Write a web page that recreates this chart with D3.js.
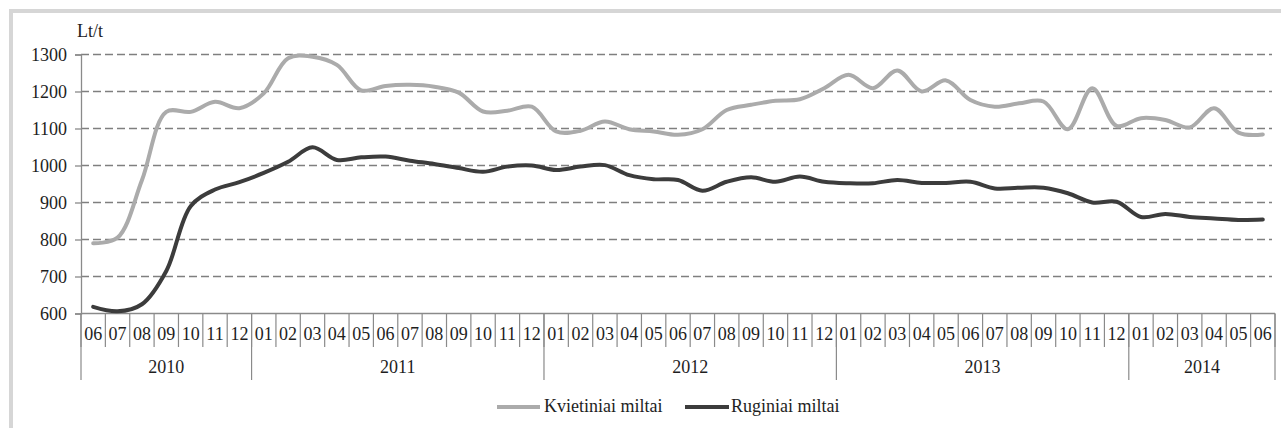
<!DOCTYPE html>
<html>
<head>
<meta charset="utf-8">
<script src="https://cdn.jsdelivr.net/npm/d3@7"></script>
<style>
  html, body { margin: 0; padding: 0; background: #fff; }
  svg { display: block; }
  svg text { font-family: "Liberation Serif", "DejaVu Serif", serif !important; fill: #1e1e1e; }
</style>
</head>
<body>
<svg id="chart" width="1281" height="428"></svg>
<script>
// ---- data ----
const monthLabels = [
  "06","07","08","09","10","11","12",
  "01","02","03","04","05","06","07","08","09","10","11","12",
  "01","02","03","04","05","06","07","08","09","10","11","12",
  "01","02","03","04","05","06","07","08","09","10","11","12",
  "01","02","03","04","05","06"
];
const yearLabels = ["2010", "2011", "2012", "2013", "2014"];
const yearCounts = [7, 12, 12, 12, 6];
const yTicks = [600, 700, 800, 900, 1000, 1100, 1200, 1300];
const unitLabel = "Lt/t";
const seriesNames = ["Kvietiniai miltai", "Ruginiai miltai"];
const wheat = [790, 805, 960, 1145, 1145, 1172, 1155, 1195, 1290, 1294, 1272, 1203,
  1215, 1218, 1213, 1197, 1146, 1148, 1159, 1092, 1094, 1119, 1098, 1092,
  1083, 1098, 1150, 1164, 1175, 1179, 1209, 1245, 1209, 1257, 1200, 1230,
  1177, 1159, 1168, 1173, 1098, 1209, 1107, 1128, 1123, 1103, 1155, 1089, 1084];
const rye = [618, 606, 625, 715, 890, 935, 955, 980, 1010, 1049, 1015, 1022,
  1024, 1013, 1004, 993, 983, 997, 1000, 988, 997, 1001, 974, 963,
  961, 932, 956, 968, 956, 970, 956, 952, 952, 961, 953, 953,
  956, 938, 940, 940, 925, 900, 902, 861, 869, 861, 857, 853, 854];
const seriesColors = ["#ababab", "#3c3c3c"];

// ---- layout ----
const svg = d3.select("#chart");
const plotLeft = 81, plotRight = 1275, plotTop = 54.5, plotBottom = 313.5;
const axisColor = "#8a8a8a";
const fontSize = 18;

// frame
svg.append("rect").attr("x", 9).attr("y", 9).attr("width", 1272).attr("height", 4).attr("fill", "#d6d6d6");
svg.append("rect").attr("x", 9).attr("y", 9).attr("width", 4).attr("height", 419).attr("fill", "#d6d6d6");

const idx = d3.range(monthLabels.length);
const x = d3.scaleBand().domain(idx).range([plotLeft, plotRight]).padding(0);
const y = d3.scaleLinear().domain([600, 1300]).range([plotBottom, plotTop]);

// gridlines
svg.append("g").selectAll("line").data(yTicks.filter(t => t > 600)).join("line")
  .attr("x1", plotLeft).attr("x2", plotRight - 3)
  .attr("y1", d => y(d)).attr("y2", d => y(d))
  .attr("stroke", "#7f7f7f").attr("stroke-width", 1.3)
  .attr("stroke-dasharray", "8,4");

// y axis
const yAxis = d3.axisLeft(y).tickValues(yTicks).tickSize(6).tickPadding(8).tickFormat(d3.format("d"));
const gy = svg.append("g").attr("transform", `translate(${plotLeft},0)`).call(yAxis);
gy.attr("font-size", fontSize).attr("font-family", null);
gy.select(".domain").attr("stroke", axisColor).attr("stroke-width", 1.3);
gy.selectAll(".tick line").attr("stroke", axisColor).attr("stroke-width", 1.3);
gy.selectAll(".tick text").attr("font-size", fontSize);

svg.append("text").attr("x", 77).attr("y", 37).attr("font-size", fontSize).text(unitLabel);

// x axis line
svg.append("line").attr("x1", plotLeft).attr("x2", plotRight).attr("y1", plotBottom).attr("y2", plotBottom)
  .attr("stroke", axisColor).attr("stroke-width", 1.5);

// month separators
const monthBottom = 347, yearBottom = 380;
svg.append("g").selectAll("line").data(d3.range(monthLabels.length + 1)).join("line")
  .attr("x1", i => i < monthLabels.length ? x(i) : plotRight)
  .attr("x2", i => i < monthLabels.length ? x(i) : plotRight)
  .attr("y1", plotBottom)
  .attr("y2", monthBottom)
  .attr("stroke", axisColor).attr("stroke-width", 1.2);

// month labels
svg.append("g").selectAll("text").data(idx).join("text")
  .attr("x", i => x(i) + x.bandwidth() / 2)
  .attr("y", 340)
  .attr("text-anchor", "middle")
  .attr("font-size", fontSize)
  .text(i => monthLabels[i]);

// year separators and labels
const yearStarts = [];
let acc = 0;
yearCounts.forEach(c => { yearStarts.push(acc); acc += c; });
yearStarts.push(acc);
svg.append("g").selectAll("line").data(yearStarts).join("line")
  .attr("x1", s => s < monthLabels.length ? x(s) : plotRight)
  .attr("x2", s => s < monthLabels.length ? x(s) : plotRight)
  .attr("y1", plotBottom).attr("y2", yearBottom)
  .attr("stroke", axisColor).attr("stroke-width", 1.2);
svg.append("g").selectAll("text").data(yearLabels).join("text")
  .attr("x", (d, i) => {
    const a = x(yearStarts[i]);
    const b = yearStarts[i + 1] < monthLabels.length ? x(yearStarts[i + 1]) : plotRight;
    return (a + b) / 2;
  })
  .attr("y", 373)
  .attr("text-anchor", "middle")
  .attr("font-size", fontSize)
  .text(d => d);

// lines
const line = d3.line()
  .x((d, i) => x(i) + x.bandwidth() / 2)
  .y(d => y(d))
  .curve(d3.curveCatmullRom.alpha(0.5));
[wheat, rye].forEach((s, k) => {
  svg.append("path").datum(s)
    .attr("d", line)
    .attr("fill", "none")
    .attr("stroke", seriesColors[k])
    .attr("stroke-width", 4)
    .attr("stroke-linejoin", "round")
    .attr("stroke-linecap", "round");
});

// legend
const legendItems = [
  { x1: 497, x2: 540, tx: 544 },
  { x1: 685, x2: 729, tx: 731 }
];
legendItems.forEach((it, k) => {
  svg.append("line").attr("x1", it.x1).attr("x2", it.x2).attr("y1", 407).attr("y2", 407)
    .attr("stroke", seriesColors[k]).attr("stroke-width", 4);
  svg.append("text").attr("x", it.tx).attr("y", 412).attr("font-size", fontSize)
    .text(seriesNames[k]);
});
</script>
</body>
</html>
